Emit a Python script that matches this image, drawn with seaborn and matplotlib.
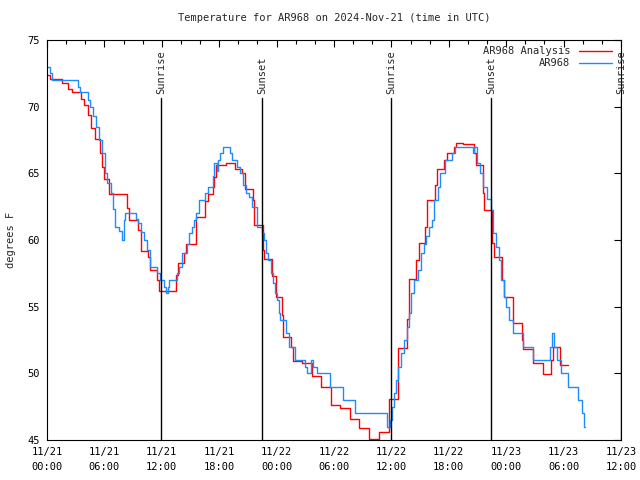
import numpy as np
import pandas as pd
import matplotlib
matplotlib.use("Agg")
import matplotlib.pyplot as plt
import matplotlib.dates as mdates
import matplotlib.transforms as mtransforms
import seaborn as sns

# ---- data (hours after 2024-11-21 00:00 UTC, degrees F) ----
obs_hours = [0.0, 0.3, 0.5, 3.2, 3.4, 4.25, 4.5, 4.8, 5.1, 5.47, 5.7, 6.06, 6.3, 6.66, 6.9,
             7.1, 7.5, 7.8, 8.1, 8.2, 9.3, 9.55, 9.8, 10.1, 10.5, 10.77, 11.5, 11.8, 12.2,
             12.4, 12.6, 12.8, 13.6, 13.8, 14.1, 14.6, 14.85, 15.2, 15.4, 15.6, 15.9, 16.5,
             16.8, 17.3, 17.5, 17.75, 17.9, 18.1, 18.4, 19.1, 19.3, 19.9, 20.2, 20.5, 20.8,
             21.1, 21.4, 21.9, 22.5, 22.7, 22.9, 23.1, 23.4, 23.6, 23.8, 24.0, 24.2, 24.4,
             25.0, 25.3, 25.9, 27.0, 27.2, 27.6, 27.8, 28.2, 29.6, 30.9, 32.2, 35.5, 35.9,
             36.1, 36.3, 36.5, 36.7, 37.0, 37.3, 37.6, 37.8, 38.1, 38.4, 38.8, 39.1, 39.4,
             39.6, 39.9, 40.2, 40.5, 40.9, 41.1, 41.6, 42.3, 42.6, 44.5, 44.67, 44.98, 45.26,
             45.6, 46.0, 46.4, 46.65, 46.9, 47.2, 47.5, 47.75, 48.0, 48.3, 48.75, 49.8, 50.8,
             52.6, 52.75, 53.0, 53.3, 53.7, 54.5, 55.2, 55.5, 55.9, 56.1, 56.27]
obs_temps = [73.0, 72.5, 72.0, 71.5, 71.1, 70.5, 70.0, 69.3, 68.5, 67.5, 66.5, 65.0, 64.3, 63.5, 62.3,
             61.0, 60.7, 60.0, 61.5, 62.0, 61.6, 61.3, 60.6, 60.0, 59.25, 58.0, 57.5, 57.0, 56.5,
             56.0, 56.5, 57.0, 57.5, 58.0, 59.0, 59.7, 60.5, 61.0, 61.5, 62.0, 63.0, 63.5,
             64.0, 64.8, 65.75, 65.2, 66.0, 66.5, 67.0, 66.5, 66.0, 65.5, 65.0, 64.1, 63.5,
             63.25, 62.5, 61.0, 60.5, 60.0, 59.0, 58.5, 57.5, 56.8, 56.0, 55.5, 54.5, 54.0,
             53.0, 52.0, 51.0, 50.5, 50.0, 51.0, 50.5, 50.0, 49.0, 48.0, 47.0, 46.0, 46.5,
             47.5, 48.5, 49.5, 50.5, 51.5, 52.5, 53.5, 54.5, 56.0, 57.0, 57.75, 59.0, 59.7,
             60.3, 61.0, 61.5, 63.0, 64.0, 65.0, 66.0, 66.5, 67.0, 66.5, 67.0, 65.75, 65.0,
             64.0, 63.1, 62.25, 60.5, 59.5, 58.5, 57.0, 55.75, 55.0, 54.0, 53.0, 52.0, 51.0,
             52.0, 53.0, 52.0, 51.0, 50.0, 49.0, 49.0, 48.0, 47.0, 46.0, 46.0]

ana_hours = [0.0, 0.3, 1.6, 2.2, 2.6, 3.6, 3.9, 4.3, 4.6, 5.0, 5.5, 5.8, 6.0, 6.5, 8.4, 8.6,
             9.5, 9.8, 10.6, 10.8, 11.5, 11.7, 13.45, 13.7, 14.3, 14.5, 15.6, 16.5, 16.8,
             17.4, 17.5, 17.66, 18.7, 19.65, 20.4, 20.7, 21.5, 21.67, 22.55, 22.7, 23.55,
             23.9, 24.55, 24.7, 25.5, 25.75, 26.7, 27.66, 28.6, 29.65, 30.6, 31.7, 32.65,
             33.7, 34.7, 35.7, 36.7, 37.6, 37.8, 38.6, 38.9, 39.5, 39.7, 40.6, 40.8, 41.5,
             41.8, 42.5, 42.8, 43.5, 44.6, 44.8, 45.55, 45.7, 46.55, 46.75, 47.55, 47.8,
             48.75, 49.6, 49.8, 50.8, 51.8, 52.7, 52.85, 53.6, 54.5]
ana_temps = [72.4, 72.1, 71.8, 71.3, 71.1, 70.6, 70.1, 69.4, 68.4, 67.6, 66.5, 65.5, 64.6, 63.45, 62.4, 61.5,
             60.75, 59.2, 58.75, 57.75, 57.0, 56.2, 57.4, 58.3, 59.0, 59.67, 61.75, 62.9, 63.45,
             64.0, 64.75, 65.6, 65.8, 65.3, 65.0, 63.8, 63.0, 61.1, 59.25, 58.55, 57.3,
             55.7, 54.4, 52.7, 52.0, 50.9, 50.75, 49.8, 49.0, 47.6, 47.4, 46.55, 45.9,
             45.05, 45.6, 48.1, 51.9, 54.1, 57.05, 58.5, 59.8, 61.0, 63.0, 64.1, 65.3, 66.0,
             66.5, 66.95, 67.25, 67.2, 66.5, 65.6, 63.5, 62.25, 59.75, 58.75, 57.0, 55.75,
             53.8, 52.5, 51.8, 50.8, 49.95, 51.0, 52.0, 50.6, 50.6]

sun_hours = [11.92, 22.47, 35.96, 46.41, 59.99]
sun_labels = ["Sunrise", "Sunset", "Sunrise", "Sunset", "Sunrise"]

y_ticks = [45, 50, 55, 60, 65, 70, 75]

start = pd.Timestamp("2024-11-21 00:00")
obs = pd.DataFrame({"time": start + pd.to_timedelta(obs_hours, unit="h"), "temp": obs_temps})
ana = pd.DataFrame({"time": start + pd.to_timedelta(ana_hours, unit="h"), "temp": ana_temps})

sns.set_style("white")
mono = ["DejaVu Sans Mono"]
plt.rcParams["font.family"] = mono
plt.rcParams["font.size"] = 7

fig = plt.figure(figsize=(6.4, 4.8), dpi=100)
ax = fig.add_axes([47/640, 40/480, (621-47)/640, 400/480])

sns.lineplot(data=ana, x="time", y="temp", ax=ax, color="#ff0000", linewidth=1.0,
             drawstyle="steps-post", label="AR968 Analysis", estimator=None)
sns.lineplot(data=obs, x="time", y="temp", ax=ax, color="#1e8cff", linewidth=1.0,
             drawstyle="steps-post", label="AR968", estimator=None)

ax.set_xlim(start, start + pd.Timedelta(hours=60))
ax.set_ylim(45, 75)
ax.set_yticks(y_ticks)
ax.xaxis.set_major_locator(mdates.HourLocator(byhour=[0, 6, 12, 18]))
ax.xaxis.set_minor_locator(mdates.HourLocator(byhour=range(0, 24, 2)))
ax.xaxis.set_major_formatter(mdates.DateFormatter("%m/%d\n%H:%M"))
ax.tick_params(axis="both", which="both", direction="in", top=True, right=True,
               colors="black", labelsize=7.5, width=0.8)
ax.tick_params(axis="both", which="major", length=5, pad=5)
ax.tick_params(axis="x", which="minor", length=3)
for lab in ax.get_xticklabels():
    lab.set_linespacing(1.6)
for s in ax.spines.values():
    s.set_color("black")
    s.set_linewidth(0.8)

ax.set_xlabel("")
ax.set_ylabel("degrees F", fontsize=7.5, labelpad=8)
ax.set_title("Temperature for AR968 on 2024-Nov-21 (time in UTC)", fontsize=7.5, pad=14)

trans = mtransforms.blended_transform_factory(ax.transData, ax.transAxes)
for h, lab in zip(sun_hours, sun_labels):
    tt = start + pd.Timedelta(hours=h)
    ax.axvline(tt, ymin=0, ymax=(440-98)/400, color="black", linewidth=1.0)
    ax.text(tt, (440-94)/400, lab, rotation=90, ha="center", va="bottom",
            fontsize=7.5, transform=trans)

leg = ax.legend(loc="upper right", bbox_to_anchor=(0.995, 1.0), frameon=False,
                markerfirst=False, handlelength=3.2, handletextpad=0.8,
                labelspacing=0.2, fontsize=7.5, borderaxespad=0.2)
for t in leg.get_texts():
    t.set_ha("right")
leg._legend_box.align = "right"

fig.savefig("out.png", dpi=100)
